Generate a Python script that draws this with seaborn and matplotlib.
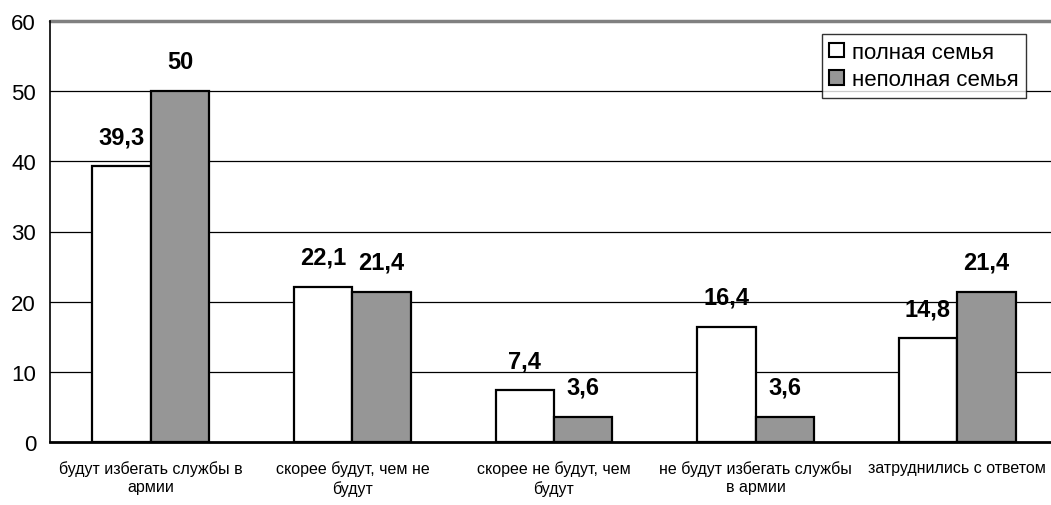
import matplotlib
matplotlib.use("Agg")
import matplotlib.pyplot as plt
import seaborn as sns
import pandas as pd
from matplotlib.font_manager import fontManager

categories = ["будут избегать службы в\nармии", "скорее будут, чем не\nбудут",
              "скорее не будут, чем\nбудут", "не будут избегать службы\nв армии",
              "затруднились с ответом"]
full_family = [39.3, 22.1, 7.4, 16.4, 14.8]
single_family = [50, 21.4, 3.6, 3.6, 21.4]
series_names = ["полная семья", "неполная семья"]
yticks = [0, 10, 20, 30, 40, 50, 60]

names = {f.name for f in fontManager.ttflist}
narrow = "Liberation Sans Narrow" if "Liberation Sans Narrow" in names else "Liberation Sans"

sns.set_theme(style="white")
plt.rcParams['font.family'] = ['Liberation Sans', 'DejaVu Sans']
plt.rcParams['text.color'] = 'black'
plt.rcParams['xtick.color'] = 'black'
plt.rcParams['ytick.color'] = 'black'

df = pd.DataFrame({
    "cat": categories * 2,
    "val": full_family + single_family,
    "series": [series_names[0]] * 5 + [series_names[1]] * 5,
})

fig = plt.figure(figsize=(10.51, 5.06), dpi=100)
ax = fig.add_axes([50/1051, 1-443/506, 1008/1051, (443-22)/506])

sns.barplot(data=df, x="cat", y="val", hue="series", order=categories,
            hue_order=series_names, palette=["white", "#969696"],
            edgecolor="black", linewidth=1.6, width=0.58, ax=ax, zorder=3,
            saturation=1)

ax.set_ylim(0, 60)
ax.set_xlim(-0.5, 4.5)
ax.set_yticks(yticks)
ax.set_yticklabels([str(t) for t in yticks], fontsize=16, color="black")
for y in yticks[1:-1]:
    ax.axhline(y, color="black", lw=0.9, zorder=1)
ax.axhline(60, color="#808080", lw=2.5, zorder=1, clip_on=False)

ax.set_xlabel("")
ax.set_ylabel("")
ax.set_xticks([0.5, 1.5, 2.5, 3.5], minor=False)
ax.set_xticklabels([])
ax.set_xticks(range(5), minor=True)
ax.set_xticklabels(categories, minor=True, fontsize=11.5, family=narrow,
                   color="black", linespacing=1.3)
ax.tick_params(axis="x", which="minor", length=0, pad=13)
ax.tick_params(axis="x", which="major", length=6, width=1, color="black", direction="out")
ax.tick_params(axis="y", length=6, width=1, color="black", direction="out", pad=4)

for s in ["top", "right"]:
    ax.spines[s].set_visible(False)
ax.spines["left"].set_color("black")
ax.spines["left"].set_linewidth(1.2)
ax.spines["bottom"].set_color("black")
ax.spines["bottom"].set_linewidth(2)
ax.spines["bottom"].set_zorder(4)

def fmt(v):
    s = f"{v:g}"
    return s.replace(".", ",")

for cont in ax.containers:
    ax.bar_label(cont, labels=[fmt(v) for v in cont.datavalues], padding=13,
                 fontsize=17, fontweight="bold", family=narrow, color="black")

leg = ax.legend(loc="upper right", bbox_to_anchor=((1026-50)/1008, 1 - 13/421),
                bbox_transform=ax.transAxes,
                fontsize=16, frameon=True, fancybox=False, edgecolor="black",
                handlelength=0.65, handleheight=0.65, handletextpad=0.35,
                borderpad=0.35, labelspacing=0.3, borderaxespad=0)
leg.get_frame().set_linewidth(1)
leg.set_zorder(5)
for t in leg.get_texts():
    t.set_color("black")
for h in leg.legend_handles:
    h.set_edgecolor("black")
    h.set_linewidth(1.5)

fig.savefig("out.png", dpi=100)
